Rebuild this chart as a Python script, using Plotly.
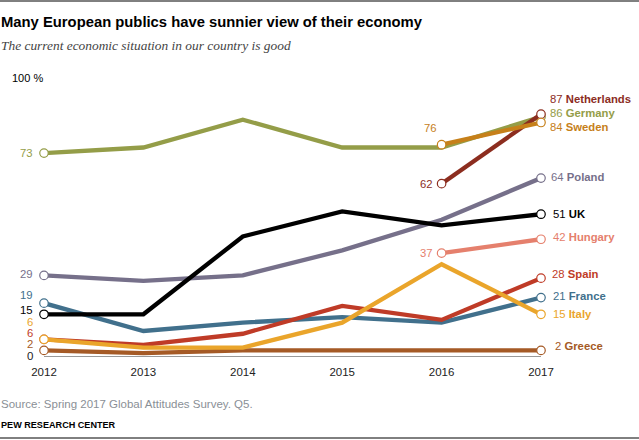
import plotly.graph_objects as go

years = [2012, 2013, 2014, 2015, 2016, 2017]
germany = [73, 75, 85, 75, 75, 86]
sweden = [None, None, None, None, 76, 84]
netherlands = [None, None, None, None, 62, 87]
poland = [29, 27, 29, 38, 49, 64]
uk = [15, 15, 43, 52, 47, 51]
hungary = [None, None, None, None, 37, 42]
spain = [6, 4, 8, 18, 13, 28]
france = [19, 9, 12, 14, 12, 21]
italy = [6, 3, 3, 12, 33, 15]
greece = [2, 1, 2, 2, 2, 2]

W, H = 639, 440
L, R, T, B = 44, 541, 78, 356
SANS = "Liberation Sans, Arial, sans-serif"

# name, values, colour, right label (dx, dy), left label (dx, dy)
series = [
    ("Germany", germany, "#949d48", (7, -4), (-9, 0)),
    ("Poland", poland, "#76708a", (8, -1), (-9, -1)),
    ("France", france, "#41708c", (10, -2), (-9, -8)),
    ("Greece", greece, "#a55a26", (12, -4), (-9, -6.5)),
    ("Spain", spain, "#bf3b27", (9, -4), (-9, -6.5)),
    ("Italy", italy, "#eaa52b", (10, 0), (-9, -17.5)),
    ("UK", uk, "#000000", (10, 0), (-9, -4)),
    ("Hungary", hungary, "#e5806d", (10, -2), (-7, 0)),
    ("Netherlands", netherlands, "#8c2d1f", (7, -15), (-7, 0)),
    ("Sweden", sweden, "#c6801a", (7, 5), (-3, -17)),
]

fig = go.Figure()
annotations = []


def text(x, y, s, size, color, family=SANS, anchor="left"):
    annotations.append(dict(xref="paper", yref="paper", x=(x - L) / (R - L), y=(B - y) / (B - T),
                            text=s, showarrow=False, xanchor=anchor, yanchor="middle",
                            borderpad=0, borderwidth=0,
                            font=dict(size=size, color=color, family=family), align=anchor))


for name, vals, col, rl, ll in series:
    xs = [yr for yr, v in zip(years, vals) if v is not None]
    ys = [v for v in vals if v is not None]
    fig.add_trace(go.Scatter(x=xs, y=ys, mode="lines", line=dict(color=col, width=4.3),
                             cliponaxis=False, showlegend=False, hoverinfo="skip"))
    fig.add_trace(go.Scatter(x=[xs[0], xs[-1]], y=[ys[0], ys[-1]], mode="markers",
                             marker=dict(size=8.5, color="white", line=dict(color=col, width=1.2)),
                             cliponaxis=False, showlegend=False, hoverinfo="skip"))
    annotations.append(dict(x=xs[-1], y=ys[-1], xref="x", yref="y", showarrow=False,
                            xanchor="left", yanchor="middle", xshift=rl[0], yshift=-rl[1],
                            text=f"{ys[-1]} <b>{name}</b>",
                            font=dict(size=11.3, color=col, family=SANS)))
    annotations.append(dict(x=xs[0], y=ys[0], xref="x", yref="y", showarrow=False,
                            xanchor="right", yanchor="middle", xshift=ll[0], yshift=-ll[1],
                            text=str(ys[0]), font=dict(size=11.3, color=col, family=SANS)))

text(1, 22, "<b>Many European publics have sunnier view of their economy</b>", 14.8, "#000000")
text(1, 45.5, "<i>The current economic situation in our country is good</i>", 13.4, "#444444",
     family="Liberation Serif, Georgia, serif")
text(12, 78, "100 %", 11, "#000000")
text(27, 356, "0", 11.5, "#222222")
text(1, 404, "Source: Spring 2017 Global Attitudes Survey. Q5.", 11.5, "#8a8f96")
text(1, 425, "<b>PEW RESEARCH CENTER</b>", 9.1, "#000000")

shapes = [
    dict(type="line", xref="paper", yref="paper", x0=-L / (R - L), x1=(W - L) / (R - L),
         y0=(B - 1) / (B - T), y1=(B - 1) / (B - T), line=dict(color="#000000", width=1)),
    dict(type="line", xref="paper", yref="paper", x0=-L / (R - L), x1=(W - L) / (R - L),
         y0=(B - 438) / (B - T), y1=(B - 438) / (B - T), line=dict(color="#000000", width=1)),
]

fig.update_layout(
    width=W, height=H, margin=dict(l=L, r=W - R, t=T, b=H - B, pad=0, autoexpand=False),
    plot_bgcolor="white", paper_bgcolor="white", showlegend=False,
    annotations=annotations, shapes=shapes,
    xaxis=dict(range=[2012, 2017], tickvals=years, ticks="outside", ticklen=5,
               tickcolor="rgba(0,0,0,0)", showgrid=False, zeroline=False,
               showline=True, linecolor="#999999", linewidth=1,
               tickfont=dict(size=11.5, color="#222222", family=SANS)),
    yaxis=dict(range=[0, 100], showgrid=False, zeroline=False, showticklabels=False, ticks=""),
)
fig.write_html("out.html", config={"displayModeBar": False},
               post_script="document.body.style.margin='0';")
